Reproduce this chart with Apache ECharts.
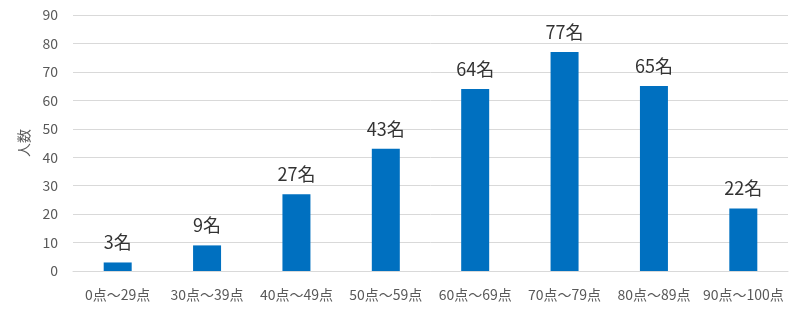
<!DOCTYPE html>
<html><head><meta charset="utf-8">
<script src="https://cdn.jsdelivr.net/npm/echarts@6/dist/echarts.min.js"></script>
<style>html,body{margin:0;padding:0;background:#fff}#c{width:800px;height:315px}</style>
</head><body><div id="c"></div>
<script>
const categories = ['0点～29点','30点～39点','40点～49点','50点～59点','60点～69点','70点～79点','80点～89点','90点～100点'];
const values = [3, 9, 27, 43, 64, 77, 65, 22];
const yTicks = {min: 0, max: 90, interval: 10};
const yName = '人数';
const labelSuffix = '名';

const font = '"Noto Sans CJK JP", "Noto Sans", sans-serif';
const chart = echarts.init(document.getElementById('c'));
chart.setOption({
  animation: false,
  grid: {left: 73, right: 12, top: 15, bottom: 44},
  xAxis: {
    type: 'category', data: categories,
    axisLine: {lineStyle: {color: '#d9d9d9'}},
    axisTick: {show: false},
    axisLabel: {color: '#595959', fontSize: 14, fontFamily: font, margin: 17, interval: 0}
  },
  yAxis: {
    type: 'value', min: yTicks.min, max: yTicks.max, interval: yTicks.interval,
    name: yName, nameLocation: 'middle', nameGap: 42, nameRotate: 90,
    nameTextStyle: {color: '#595959', fontSize: 14, fontFamily: font},
    axisLine: {show: false}, axisTick: {show: false},
    axisLabel: {color: '#595959', fontSize: 14, fontFamily: font, margin: 15},
    splitLine: {lineStyle: {color: '#d9d9d9'}}
  },
  series: [{
    type: 'bar', data: values, barWidth: 28,
    itemStyle: {color: '#0070C0'},
    label: {show: true, position: 'top', distance: 11, color: '#333333', fontSize: 18, fontFamily: font,
      formatter: p => p.value + labelSuffix}
  }]
});
</script></body></html>
